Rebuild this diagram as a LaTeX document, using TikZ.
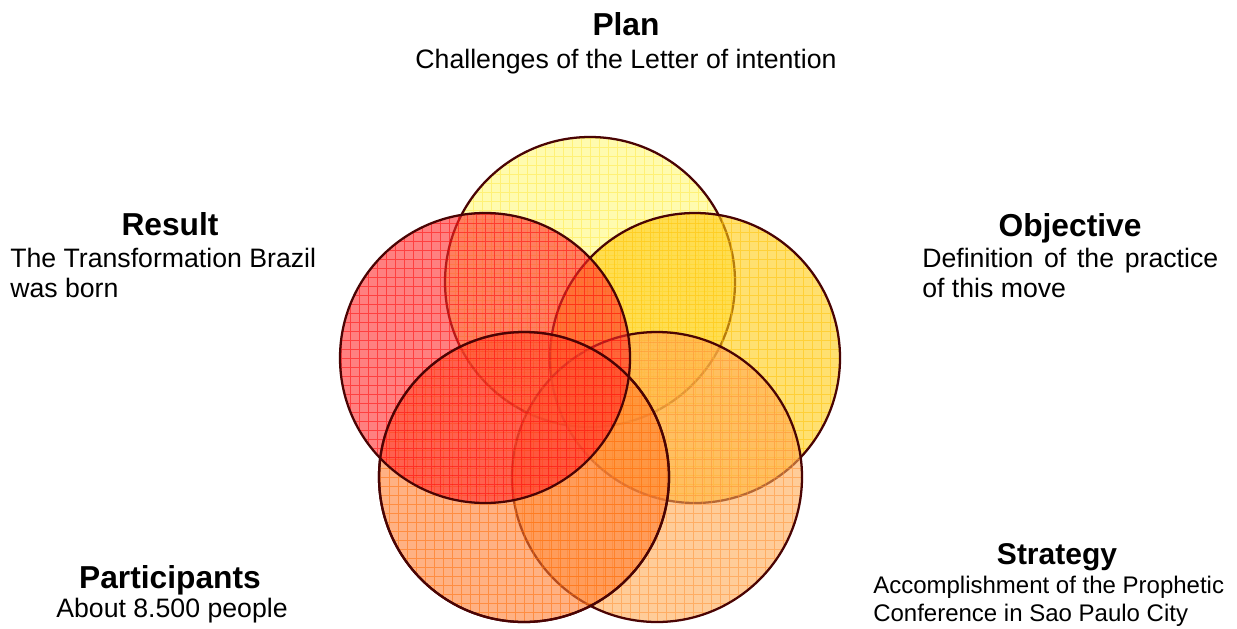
\documentclass[tikz,border=0pt]{standalone}
\usepackage{fontspec}
\setmainfont{Liberation Sans}

\definecolor{rimcol}{HTML}{4A0404}
\definecolor{planfill}{HTML}{FFF87A}
\definecolor{plangrid}{HTML}{FFE840}
\definecolor{objfill}{HTML}{FFCB11}
\definecolor{objgrid}{HTML}{FFC000}
\definecolor{resfill}{HTML}{FF2B2B}
\definecolor{resgrid}{HTML}{FF0000}
\definecolor{partfill}{HTML}{FF7D30}
\definecolor{partgrid}{HTML}{FF6A00}
\definecolor{stratfill}{HTML}{FFAA55}
\definecolor{stratgrid}{HTML}{FF9030}

\tikzset{
  bubble/.style 2 args={circle, minimum size=217.5pt, inner sep=0pt,
    draw=rimcol, line width=1.7pt, fill=#1, fill opacity=.6,
    path picture={\draw[#2, line width=.6pt, draw opacity=.5, step=6.75pt]
      (path picture bounding box.south west) grid (path picture bounding box.north east);}},
  rimline/.style={draw=rimcol, line width=1.7pt},
  headline/.style={font=\bfseries\fontsize{23.8}{28}\selectfont, inner sep=0pt, anchor=base},
  subline/.style={font=\fontsize{20}{22}\selectfont, inner sep=0pt}
}

\begin{document}
\begin{tikzpicture}[x=0.75pt, y=-0.75pt]
\useasboundingbox (0,0) rectangle (1237,628);

% the five circles
\node[bubble={planfill}{plangrid}] (plan) at (590,282) {};
\node[bubble={objfill}{objgrid}] (objective) at (695,358) {};
\node[bubble={stratfill}{stratgrid}] (strategy) at (657,477) {};
\node[bubble={partfill}{partgrid}] (participants) at (524,477) {};
\node[bubble={resfill}{resgrid}] (result) at (485,358) {};
\draw[rimline] (participants.center) circle[radius=108.75pt];

% labels
\node[headline] (plantitle) at (626,36) {Plan};
\node[subline, anchor=base] (plantext) at (626,68) {Challenges of the Letter of intention};

\node[headline] (resulttitle) at (170,235) {Result};
\node[subline, anchor=base west, align=left] (resulttext) at (10,297) {The Transformation Brazil\\was born};

\node[headline] (objtitle) at (1070,236) {Objective};
\node[subline, anchor=base west, align=left] (objtext) at (922,297) {\makebox[222pt][s]{Definition of the practice}\\of this move};

\node[headline] (parttitle) at (170,588) {Participants};
\node[subline, anchor=base] (parttext) at (172,617) {About 8.500 people};

\node[headline, font=\bfseries\fontsize{22.5}{26}\selectfont] (strattitle) at (1057,564) {Strategy};
\node[subline, font=\fontsize{18}{21}\selectfont, anchor=base west, align=left] (strattext) at (873,621) {Accomplishment of the Prophetic\\Conference in Sao Paulo City};
\end{tikzpicture}
\end{document}
